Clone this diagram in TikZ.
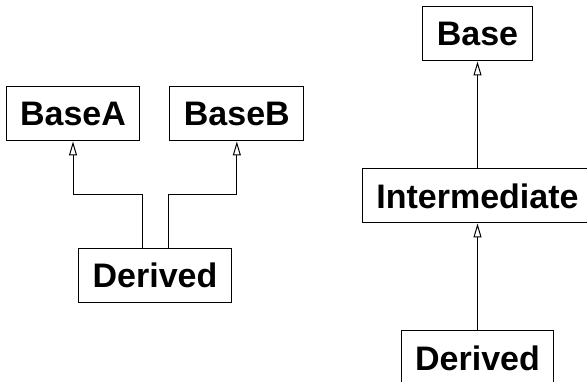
\documentclass[tikz,border=0pt]{standalone}
\usepackage{fontspec}
\setmainfont{Liberation Sans}
\usepackage{tikz}
\usetikzlibrary{arrows.meta,positioning}

\tikzset{
  cls/.style={draw, line width=1pt, minimum height=54pt, inner xsep=14pt,
    font=\fontsize{34}{40}\selectfont\bfseries},
  inherit/.style={-{Triangle[open,length=14pt,width=8pt]}, line width=1pt}
}

\begin{document}
\begin{tikzpicture}[x=1pt,y=1pt,node distance=107pt]
      \useasboundingbox (0,0) rectangle (587,-382);

      % multiple inheritance
      \node[cls] (basea) at (73,-114) {BaseA};
      \node[cls] [right=29pt of basea] (baseb) {BaseB};
      \node[cls] (derivedl) at (155,-275.5) {Derived};

      % chain
      \node[cls] (base) at (477.5,-34) {Base};
      \node[cls] [below=of base] (inter) {Intermediate};
      \node[cls] [below=of inter] (derivedr) {Derived};

      \draw[inherit] ([xshift=-13pt]derivedl.north) -- ++(0,53) -| (basea.south);
      \draw[inherit] ([xshift=13pt]derivedl.north) -- ++(0,53) -| (baseb.south);
      \draw[inherit] (inter) -- (base);
      \draw[inherit] (derivedr) -- (inter);

\end{tikzpicture}
\end{document}
